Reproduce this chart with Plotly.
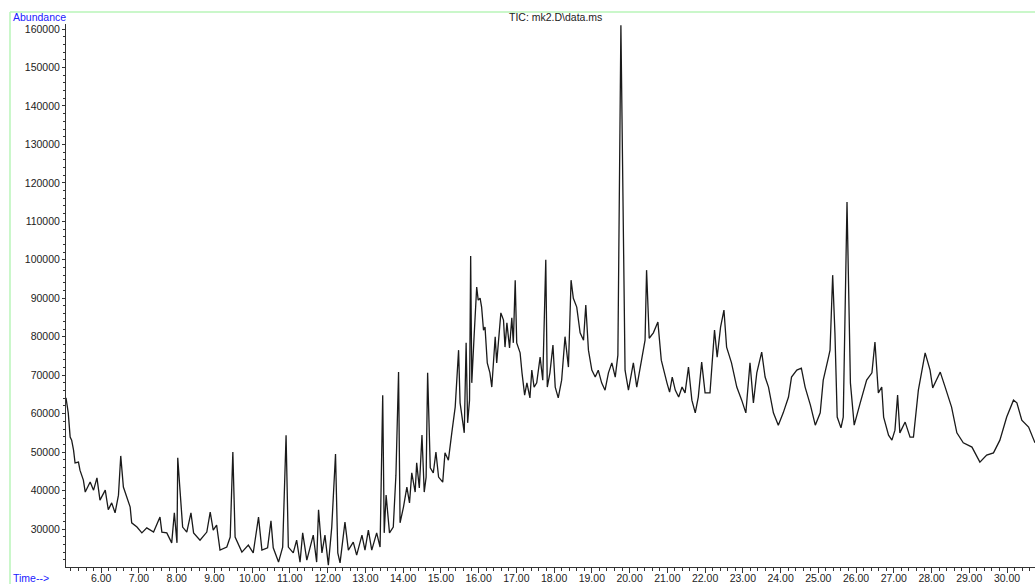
import plotly.graph_objects as go

# Retention time (min) and TIC abundance
time_min = [
    5.07, 5.10, 5.13, 5.18, 5.22, 5.27, 5.31, 5.40, 5.44, 5.53, 5.58, 5.71, 5.80, 5.89, 5.97,
    6.11, 6.19, 6.28, 6.37, 6.46, 6.52, 6.59, 6.68, 6.77, 6.81, 6.95, 7.08, 7.21, 7.39, 7.56,
    7.61, 7.74, 7.87, 7.94, 8.01, 8.03, 8.09, 8.16, 8.27, 8.38, 8.45, 8.62, 8.80, 8.89, 8.97,
    9.06, 9.15, 9.33, 9.42, 9.49, 9.55, 9.73, 9.90, 10.03, 10.17, 10.26, 10.41, 10.50, 10.56,
    10.70, 10.81, 10.90, 10.96, 11.09, 11.18, 11.27, 11.34, 11.45, 11.62, 11.71, 11.76, 11.85,
    11.93, 12.02, 12.11, 12.21, 12.27, 12.33, 12.46, 12.55, 12.68, 12.77, 12.91, 12.99, 13.08,
    13.17, 13.30, 13.39, 13.46, 13.50, 13.55, 13.64, 13.74, 13.81, 13.88, 13.92, 14.01, 14.10,
    14.17, 14.23, 14.32, 14.36, 14.43, 14.50, 14.56, 14.61, 14.65, 14.72, 14.80, 14.87, 14.94,
    15.05, 15.11, 15.20, 15.29, 15.38, 15.47, 15.51, 15.62, 15.67, 15.71, 15.76, 15.79, 15.82,
    15.88, 15.95, 15.99, 16.04, 16.08, 16.13, 16.17, 16.23, 16.30, 16.35, 16.44, 16.48, 16.59,
    16.66, 16.70, 16.75, 16.82, 16.88, 16.92, 16.97, 17.01, 17.10, 17.15, 17.22, 17.28, 17.36,
    17.41, 17.47, 17.54, 17.63, 17.70, 17.78, 17.82, 17.89, 17.97, 18.03, 18.11, 18.20, 18.29,
    18.38, 18.45, 18.51, 18.60, 18.69, 18.78, 18.84, 18.91, 19.00, 19.09, 19.17, 19.26, 19.35,
    19.44, 19.53, 19.62, 19.69, 19.77, 19.84, 19.88, 19.97, 20.10, 20.19, 20.32, 20.41, 20.45,
    20.52, 20.63, 20.75, 20.84, 20.90, 20.99, 21.06, 21.13, 21.21, 21.30, 21.39, 21.47, 21.56,
    21.65, 21.74, 21.82, 21.91, 22.00, 22.13, 22.20, 22.25, 22.32, 22.41, 22.50, 22.57, 22.70,
    22.84, 22.97, 23.08, 23.19, 23.28, 23.37, 23.50, 23.59, 23.68, 23.81, 23.94, 24.07, 24.21,
    24.29, 24.43, 24.55, 24.65, 24.79, 24.92, 25.05, 25.13, 25.27, 25.31, 25.38, 25.44, 25.50,
    25.60, 25.66, 25.76, 25.85, 25.95, 26.11, 26.28, 26.42, 26.50, 26.59, 26.68, 26.73, 26.86,
    26.95, 27.03, 27.10, 27.16, 27.30, 27.43, 27.52, 27.65, 27.83, 27.96, 28.03, 28.23, 28.36,
    28.53, 28.67, 28.84, 29.07, 29.28, 29.46, 29.64, 29.81, 29.99, 30.17, 30.26, 30.39, 30.57,
    30.74,
]
abundance = [
    64100, 62200, 60200, 53900, 53100, 50500, 47200, 47400, 45300, 42700, 39600, 42200, 40100, 43300, 37500,
    40100, 35000, 36800, 34200, 38800, 49000, 40900, 38300, 35700, 31600, 30500, 29000, 30300, 29200, 33100,
    29200, 29000, 26400, 34200, 26400, 48500, 40100, 30500, 29200, 34200, 29000, 27100, 29200, 34400, 29700,
    31000, 24500, 25300, 27900, 50000, 27900, 24000, 25800, 23800, 33100, 24500, 25100, 32100, 25100,
    21400, 25300, 54400, 25300, 23800, 27100, 21400, 29000, 21900, 28400, 21400, 35000, 23800,
    28400, 20600, 30500, 49500, 23800, 21200, 31800, 24500, 26600, 23200, 28400, 24500, 29700,
    24500, 29000, 25300, 64800, 29000, 38800, 29000, 30500, 44000, 70800, 31600, 35700, 40900,
    36800, 44600, 39600, 47200, 40700, 54400, 39600, 43500, 70600, 45900, 44600, 50000, 43500,
    42200, 49800, 47900, 55000, 61700, 76500, 62800, 55000, 78400, 57600, 63500, 101000, 68000,
    79900, 92900, 89500, 90000, 87700, 81700, 82500, 73200, 70600, 66900, 80000, 73200, 86200,
    84300, 77300, 83600, 77100, 84900, 78400, 94700, 78400, 75800, 70600, 64800, 68000, 64100,
    71300, 66900, 68000, 74700, 68700, 100000, 66900, 70600, 77800, 66900, 64100, 68700, 80000,
    72100, 94700, 90000, 87700, 81000, 79100, 88200, 76500, 71300, 69500, 71300, 68000, 66100,
    70600, 73200, 69500, 75200, 161000, 102500, 71300, 66100, 73200, 66900, 74000, 79100, 97300,
    79600, 81000, 83800, 73900, 71300, 68000, 65600, 69500, 66100, 64300, 66900, 65400, 72100,
    63500, 60200, 64300, 73400, 65400, 65400, 74700, 81700, 74700, 82500, 86900, 77300, 73200,
    66900, 63500, 60200, 73200, 62800, 70600, 76000, 69500, 66900, 60200, 57000, 60200, 64300,
    69500, 71300, 71800, 66900, 62200, 57000, 60200, 68700, 74700, 76500, 96000, 81000, 59100,
    56300, 59100, 115000, 68000, 57000, 62800, 68700, 70600, 78600, 65400, 66900, 59100, 54400,
    53100, 55700, 64800, 55000, 57800, 53900, 53900, 66100, 75800, 71300, 66700, 70800, 66900,
    61700, 55000, 52400, 51300, 47400, 49200, 49800, 53100, 59100, 63500, 62800, 58300, 56500,
    52400,
]

title_text = "TIC: mk2.D\\data.ms"
y_label = "Abundance"
x_label = "Time-->"

W, H = 1035, 584
L, R, T, B = 66, 0, 24, 17
pw, ph = W - L - R, H - T - B

def px(x):
    return (x - L) / pw

def py(y):
    return (H - B - y) / ph

FONT = "Arial, Liberation Sans, sans-serif"

fig = go.Figure()
fig.add_trace(go.Scatter(
    x=time_min, y=abundance, mode="lines",
    line=dict(color="#1a1a1a", width=1.3),
    hoverinfo="skip", showlegend=False,
))

green = "#b8f5b8"
fig.update_layout(
    width=W, height=H,
    margin=dict(l=L, r=R, t=T, b=B, pad=0, autoexpand=False),
    paper_bgcolor="white", plot_bgcolor="white",
    font=dict(family=FONT, size=10.5, color="#222"),
    showlegend=False,
    xaxis=dict(
        range=[5.07, 30.74], showgrid=False, zeroline=False, automargin=False,
        showline=True, linecolor="#333", linewidth=1,
        ticks="outside", ticklen=5, tickcolor="#333", tickwidth=1,
        tick0=0, dtick=1, tickformat=".2f", ticklabelstandoff=-4,
        tickfont=dict(family=FONT, size=10.5, color="#222"),
        minor=dict(dtick=0.2, ticks="outside", ticklen=3, tickcolor="#333"),
    ),
    yaxis=dict(
        range=[20120, 161300], showgrid=False, zeroline=False, automargin=False,
        showline=True, linecolor="#333", linewidth=1,
        ticks="outside", ticklen=3, tickcolor="#333", tickwidth=1,
        tick0=0, dtick=10000, tickformat="d",
        tickfont=dict(family=FONT, size=10.5, color="#222"),
        minor=dict(dtick=2000, ticks="outside", ticklen=2, tickcolor="#333"),
    ),
    shapes=[
        dict(type="line", xref="paper", yref="paper", x0=px(10), x1=px(1040),
             y0=py(12), y1=py(12), line=dict(color=green, width=1.5), layer="below"),
        dict(type="line", xref="paper", yref="paper", x0=px(10), x1=px(10),
             y0=py(12), y1=py(590), line=dict(color=green, width=1.5), layer="below"),
    ],
    annotations=[
        dict(text=title_text, xref="paper", yref="paper", x=px(555), y=py(17),
             xanchor="center", yanchor="middle", showarrow=False,
             font=dict(family=FONT, size=10.5, color="#222")),
        dict(text=y_label, xref="paper", yref="paper", x=px(11), y=py(17),
             xanchor="left", yanchor="middle", showarrow=False,
             font=dict(family=FONT, size=10.5, color="#2020ff")),
        dict(text=x_label, xref="paper", yref="paper", x=px(11), y=py(578),
             xanchor="left", yanchor="middle", showarrow=False,
             font=dict(family=FONT, size=10.5, color="#2020ff")),
    ],
)

fig.write_html(
    "out.html",
    config={"displayModeBar": False},
    post_script="document.body.style.margin='0px';document.body.style.overflow='hidden';",
)
